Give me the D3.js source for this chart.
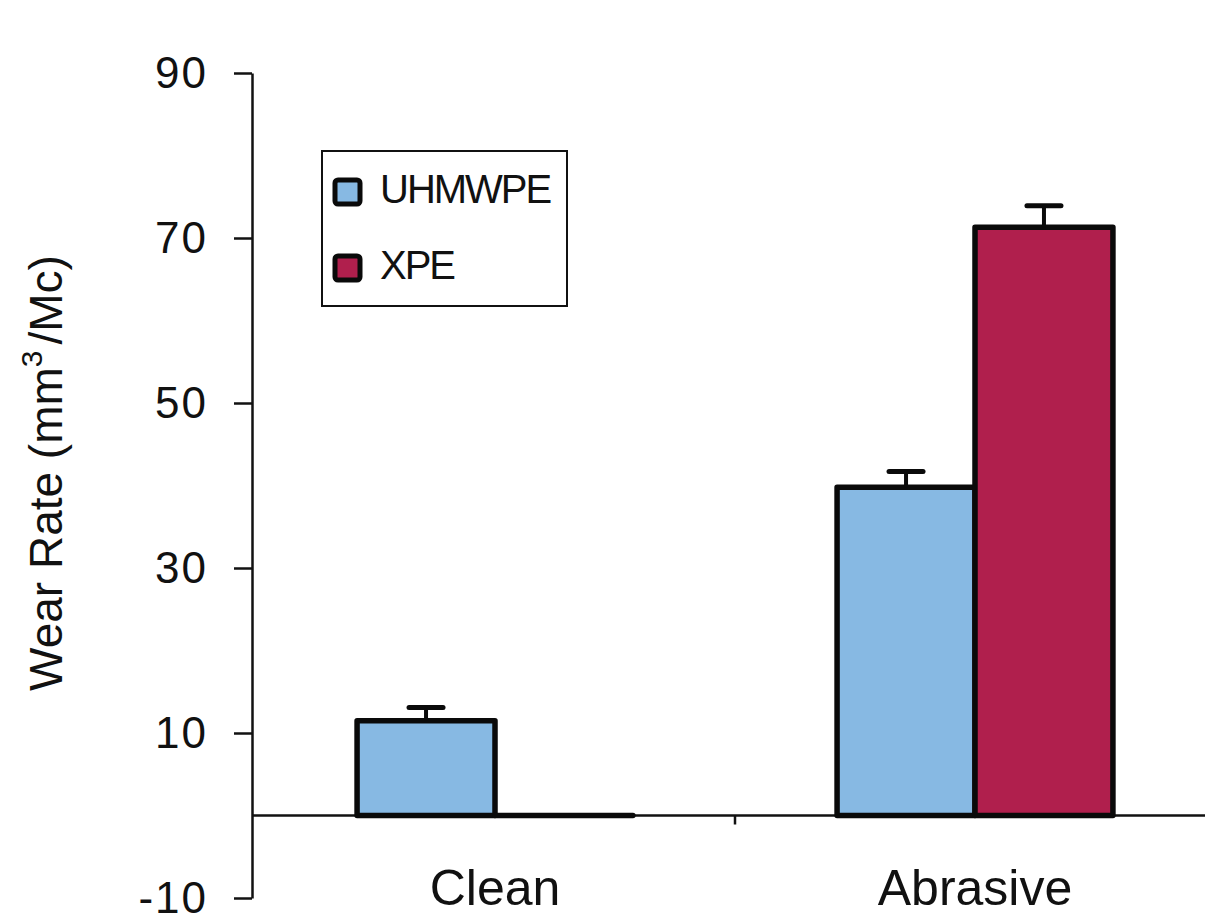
<!DOCTYPE html>
<html>
<head>
<meta charset="utf-8">
<script src="https://cdn.jsdelivr.net/npm/d3@7"></script>
<style>
  html, body { margin: 0; padding: 0; background: #fff; }
  svg { display: block; font-family: "Liberation Sans", Arial, sans-serif; }
</style>
</head>
<body>
<div id="chart"></div>
<script>
const categories = ["Clean", "Abrasive"]
const series = ["UHMWPE", "XPE"]
const uhmwpeValues = [11.5, 39.8]
const uhmwpeErrors = [1.6, 1.9]
const xpeValues = [0, 71.3]
const xpeErrors = [0, 2.6]
const yTicks = [-10, 10, 30, 50, 70, 90]
const colors = ["#87b9e3", "#b01f4d"]

const width = 1205, height = 923

const rows = []
categories.forEach((c, i) => {
  rows.push({ cat: c, s: "UHMWPE", v: uhmwpeValues[i], e: uhmwpeErrors[i] })
  rows.push({ cat: c, s: "XPE", v: xpeValues[i], e: xpeErrors[i] })
})

const svg = d3.select("#chart").append("svg")
  .attr("width", width)
  .attr("height", height)

const y = d3.scaleLinear().domain([-10, 90]).range([898, 73])
const x0 = d3.scaleBand().domain(categories).range([255, 1215])
const x1 = d3.scaleBand().domain(series).range([0, x0.bandwidth()]).paddingOuter(0.74)
const color = d3.scaleOrdinal().domain(series).range(colors)

// y axis
const yAxis = svg.append("g")
  .attr("transform", "translate(252,0)")
  .call(d3.axisLeft(y).tickValues(yTicks).tickFormat(d => String(d))
    .tickSize(18).tickSizeOuter(0).tickPadding(26))
yAxis.select(".domain").attr("stroke", "#111").attr("stroke-width", 2.5)
yAxis.selectAll(".tick line").attr("stroke", "#111").attr("stroke-width", 2.5)
yAxis.selectAll(".tick text")
  .attr("font-size", 44)
  .attr("letter-spacing", 2)
  .attr("font-family", "Liberation Sans, Arial, sans-serif")
  .attr("fill", "#111")

// zero baseline
svg.append("line")
  .attr("x1", 252).attr("x2", width)
  .attr("y1", y(0)).attr("y2", y(0))
  .attr("stroke", "#111").attr("stroke-width", 2.5)

// separator tick between categories
svg.append("line")
  .attr("x1", x0("Abrasive")).attr("x2", x0("Abrasive"))
  .attr("y1", y(0)).attr("y2", y(0) + 9)
  .attr("stroke", "#111").attr("stroke-width", 2.5)

// bars
const g = svg.append("g")
g.selectAll("path.bar")
  .data(rows)
  .enter().append("path")
  .attr("class", "bar")
  .attr("d", d => {
    const xa = x0(d.cat) + x1(d.s)
    const xb = xa + x1.bandwidth()
    return `M${xa},${y(0)}V${y(d.v)}H${xb}V${y(0)}Z`
  })
  .attr("fill", d => color(d.s))
  .attr("stroke", "#0a0a0a")
  .attr("stroke-width", 5.5)
  .attr("stroke-linejoin", "round")

// error bars (upper only)
const errRows = rows.filter(d => d.e > 0)
g.selectAll("line.err")
  .data(errRows)
  .enter().append("line")
  .attr("class", "err")
  .attr("x1", d => x0(d.cat) + x1(d.s) + x1.bandwidth() / 2)
  .attr("x2", d => x0(d.cat) + x1(d.s) + x1.bandwidth() / 2)
  .attr("y1", d => y(d.v))
  .attr("y2", d => y(d.v + d.e))
  .attr("stroke", "#0a0a0a").attr("stroke-width", 4)
g.selectAll("line.cap")
  .data(errRows)
  .enter().append("line")
  .attr("class", "cap")
  .attr("x1", d => x0(d.cat) + x1(d.s) + x1.bandwidth() / 2 - 17)
  .attr("x2", d => x0(d.cat) + x1(d.s) + x1.bandwidth() / 2 + 17)
  .attr("y1", d => y(d.v + d.e))
  .attr("y2", d => y(d.v + d.e))
  .attr("stroke", "#0a0a0a").attr("stroke-width", 5)
  .attr("stroke-linecap", "round")

// category labels
svg.selectAll("text.cat")
  .data(categories)
  .enter().append("text")
  .attr("class", "cat")
  .attr("x", d => x0(d) + x0.bandwidth() / 2)
  .attr("y", 905)
  .attr("text-anchor", "middle")
  .attr("font-size", 50)
  .attr("fill", "#111")
  .text(d => d)

// y axis title
const title = svg.append("text")
  .attr("transform", "translate(62,473) rotate(-90)")
  .attr("text-anchor", "middle")
  .attr("font-size", 46)
  .attr("fill", "#111")
title.append("tspan").text("Wear Rate (mm")
title.append("tspan").attr("font-size", 30).attr("dy", -20).text("3")
title.append("tspan").attr("dy", 20).attr("dx", 6).text("/Mc)")

// legend
const legend = svg.append("g")
legend.append("rect")
  .attr("x", 322).attr("y", 151)
  .attr("width", 245).attr("height", 155)
  .attr("fill", "#fff")
  .attr("stroke", "#111").attr("stroke-width", 2)
const items = legend.selectAll("g.item")
  .data(series)
  .enter().append("g")
  .attr("class", "item")
  .attr("transform", (d, i) => `translate(335,${180 + i * 76})`)
items.append("rect")
  .attr("width", 25).attr("height", 24)
  .attr("rx", 3)
  .attr("fill", d => color(d))
  .attr("stroke", "#0a0a0a").attr("stroke-width", 5)
items.append("text")
  .attr("x", 45).attr("y", 23)
  .attr("font-size", 40)
  .attr("letter-spacing", -2)
  .attr("fill", "#111")
  .text(d => d)
</script>
</body>
</html>
